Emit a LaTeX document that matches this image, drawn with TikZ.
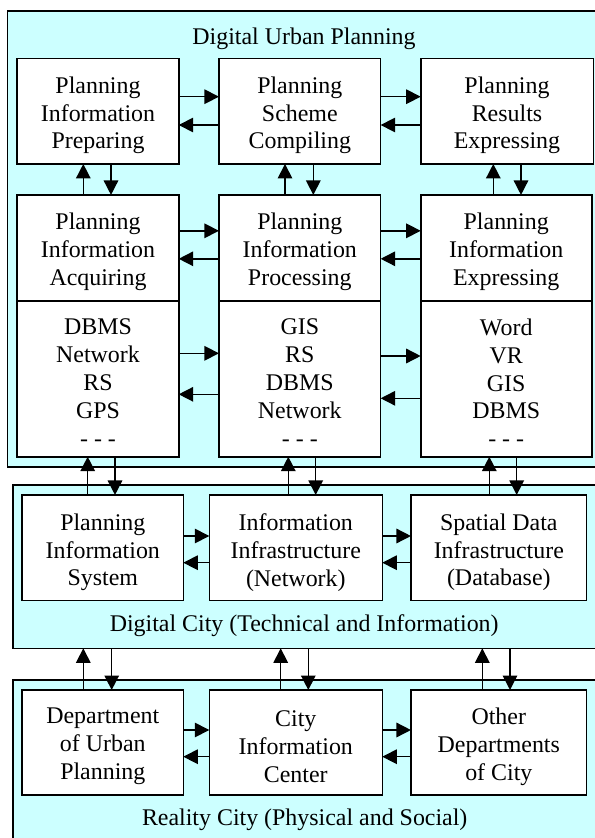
\documentclass[tikz,border=0pt]{standalone}
\usepackage{fontspec}
\setmainfont{Liberation Serif}
\usetikzlibrary{arrows.meta}
\definecolor{bgcyan}{RGB}{204,255,255}
\begin{document}
\begin{tikzpicture}[x=1bp,y=-1bp,
  box/.style={draw, fill=white, line width=1.6bp, inner sep=0pt, outer sep=0pt},
  txt/.style={align=center, inner sep=0pt, font=\fontsize{24}{28}\selectfont},
  outerbox/.style={draw, fill=bgcyan, line width=1.6bp, inner sep=0pt, outer sep=0pt, anchor=north west},
  arr/.style={-{Triangle[length=14.5bp,width=14.5bp]}, line width=1.5bp},
  ttl/.style={font=\fontsize{24}{28}\selectfont, anchor=base, inner sep=0pt}]
\useasboundingbox (0,0) rectangle (595,838);
\fill[white] (0,0) rectangle (595,838);
% outer boxes
\node[outerbox, minimum width=600bp, minimum height=456bp] (dup) at (7.3,10.7) {};
\node[outerbox, minimum width=600bp, minimum height=163.3bp] (dc) at (12.7,485) {};
\node[outerbox, minimum width=600bp, minimum height=170bp] (rc) at (12.7,680) {};
% titles
\node[ttl] (tdup) at (304,44.7) {Digital Urban Planning};
\node[ttl] (tdc) at (304.2,631.7) {Digital City (Technical and Information)};
\node[ttl] (trc) at (304.7,825) {Reality City (Physical and Social)};
% row 1
\node[box, minimum width=161.4bp, minimum height=105.3bp] (pip) at (98,111.3) {};
\node[box, minimum width=161.7bp, minimum height=105.3bp] (psc) at (299.8,111.3) {};
\node[box, minimum width=172.6bp, minimum height=105.3bp] (pre) at (507,111.3) {};
% row 2 upper
\node[box, minimum width=161.4bp, minimum height=105.7bp] (pia) at (98,247.8) {};
\node[box, minimum width=161.7bp, minimum height=105.7bp] (pipr) at (299.8,247.8) {};
\node[box, minimum width=171bp, minimum height=105.7bp] (pie) at (506.2,247.8) {};
% row 2 lower
\node[box, minimum width=161.4bp, minimum height=156bp] (ta) at (98,378.7) {};
\node[box, minimum width=161.7bp, minimum height=156bp] (tb) at (299.8,378.7) {};
\node[box, minimum width=171bp, minimum height=156bp] (tc) at (506.2,378.7) {};
% row 3
\node[box, minimum width=161bp, minimum height=105.7bp] (pis) at (102.8,547.8) {};
\node[box, minimum width=173bp, minimum height=105.7bp] (iin) at (295.8,547.8) {};
\node[box, minimum width=175.7bp, minimum height=105.7bp] (sdi) at (498.8,547.8) {};
% row 4
\node[box, minimum width=161bp, minimum height=105bp] (dept) at (102.8,742.5) {};
\node[box, minimum width=173bp, minimum height=105bp] (cic) at (295.8,742.5) {};
\node[box, minimum width=175.7bp, minimum height=105bp] (odc) at (498.8,742.5) {};
% box texts
\node[txt] (pipT) at ([yshift=-4bp]pip.center) {Planning\\Information\\Preparing};
\node[txt] (pscT) at ([yshift=-4bp]psc.center) {Planning\\Scheme\\Compiling};
\node[txt] (preT) at ([yshift=-4bp]pre.center) {Planning\\Results\\Expressing};
\node[txt] (piaT) at ([yshift=-4bp]pia.center) {Planning\\Information\\Acquiring};
\node[txt] (piprT) at ([yshift=-4bp]pipr.center) {Planning\\Information\\Processing};
\node[txt] (pieT) at ([yshift=-4bp]pie.center) {Planning\\Information\\Expressing};
\node[txt] (taT) at ([yshift=-4bp]ta.center) {DBMS\\Network\\RS\\GPS\\- - -};
\node[txt] (tbT) at ([yshift=-4bp]tb.center) {GIS\\RS\\DBMS\\Network\\- - -};
\node[txt] (tcT) at ([yshift=-4bp]tc.center) {Word\\VR\\GIS\\DBMS\\- - -};
\node[txt] (pisT) at ([yshift=-4.5bp]pis.center) {Planning\\Information\\System};
\node[txt] (iinT) at ([yshift=-4.5bp]iin.center) {Information\\Infrastructure\\(Network)};
\node[txt] (sdiT) at ([yshift=-4.5bp]sdi.center) {Spatial Data\\Infrastructure\\(Database)};
\node[txt] (deptT) at ([yshift=-4bp]dept.center) {Department\\of Urban\\Planning};
\node[txt] (cicT) at ([yshift=-4bp]cic.center) {City\\Information\\Center};
\node[txt] (odcT) at ([yshift=-4bp]odc.center) {Other\\Departments\\of City};
% horizontal arrows row 1
\draw[arr] ([yshift=14.6bp]pip.east) -- ([yshift=14.6bp]psc.west);
\draw[arr] ([yshift=-13.7bp]psc.west) -- ([yshift=-13.7bp]pip.east);
\draw[arr] ([yshift=14.6bp]psc.east) -- ([yshift=14.6bp]pre.west);
\draw[arr] ([yshift=-13.7bp]pre.west) -- ([yshift=-13.7bp]psc.east);
% row 2 upper
\draw[arr] ([yshift=17bp]pia.east) -- ([yshift=17bp]pipr.west);
\draw[arr] ([yshift=-11bp]pipr.west) -- ([yshift=-11bp]pia.east);
\draw[arr] ([yshift=17bp]pipr.east) -- ([yshift=17bp]pie.west);
\draw[arr] ([yshift=-11bp]pie.west) -- ([yshift=-11bp]pipr.east);
% row 2 lower
\draw[arr] ([yshift=25.4bp]ta.east) -- ([yshift=25.4bp]tb.west);
\draw[arr] ([yshift=-15.6bp]tb.west) -- ([yshift=-15.6bp]ta.east);
\draw[arr] ([yshift=22.7bp]tb.east) -- ([yshift=22.7bp]tc.west);
\draw[arr] ([yshift=-19.6bp]tc.west) -- ([yshift=-19.6bp]tb.east);
% row 3
\draw[arr] ([yshift=11.8bp]pis.east) -- ([yshift=11.8bp]iin.west);
\draw[arr] ([yshift=-14.9bp]iin.west) -- ([yshift=-14.9bp]pis.east);
\draw[arr] ([yshift=11.8bp]iin.east) -- ([yshift=11.8bp]sdi.west);
\draw[arr] ([yshift=-14.9bp]sdi.west) -- ([yshift=-14.9bp]iin.east);
% row 4
\draw[arr] ([yshift=12.5bp]dept.east) -- ([yshift=12.5bp]cic.west);
\draw[arr] ([yshift=-14.2bp]cic.west) -- ([yshift=-14.2bp]dept.east);
\draw[arr] ([yshift=12.5bp]cic.east) -- ([yshift=12.5bp]odc.west);
\draw[arr] ([yshift=-14.2bp]odc.west) -- ([yshift=-14.2bp]cic.east);
% vertical arrows row 1 - row 2
\coordinate (a1) at ([xshift=-14.7bp]pia.north);
\coordinate (b1) at ([xshift=13bp]pia.north);
\coordinate (a2) at ([xshift=-14.8bp]pipr.north);
\coordinate (b2) at ([xshift=13.5bp]pipr.north);
\coordinate (a3) at ([xshift=-12.9bp]pie.north);
\coordinate (b3) at ([xshift=14.8bp]pie.north);
\draw[arr] (a1) -- (a1 |- pip.south);
\draw[arr] (b1 |- pip.south) -- (b1);
\draw[arr] (a2) -- (a2 |- psc.south);
\draw[arr] (b2 |- psc.south) -- (b2);
\draw[arr] (a3) -- (a3 |- pre.south);
\draw[arr] (b3 |- pre.south) -- (b3);
% vertical arrows row 2 - row 3
\coordinate (u1) at ([xshift=-15.1bp]pis.north);
\coordinate (d1) at ([xshift=12.2bp]pis.north);
\coordinate (u2) at ([xshift=-7.5bp]iin.north);
\coordinate (d2) at ([xshift=19.9bp]iin.north);
\coordinate (u3) at ([xshift=-9.5bp]sdi.north);
\coordinate (d3) at ([xshift=17.9bp]sdi.north);
\draw[arr] (u1) -- (u1 |- ta.south);
\draw[arr] (d1 |- ta.south) -- (d1);
\draw[arr] (u2) -- (u2 |- tb.south);
\draw[arr] (d2 |- tb.south) -- (d2);
\draw[arr] (u3) -- (u3 |- tc.south);
\draw[arr] (d3 |- tc.south) -- (d3);
% vertical arrows box 2 - row 4
\coordinate (w1) at ([xshift=-19.5bp]dept.north);
\coordinate (e1) at ([xshift=8.9bp]dept.north);
\coordinate (w2) at ([xshift=-15.1bp]cic.north);
\coordinate (e2) at ([xshift=12.5bp]cic.north);
\coordinate (w3) at ([xshift=-16.5bp]odc.north);
\coordinate (e3) at ([xshift=11.2bp]odc.north);
\draw[arr] (w1) -- (w1 |- dc.south);
\draw[arr] (e1 |- dc.south) -- (e1);
\draw[arr] (w2) -- (w2 |- dc.south);
\draw[arr] (e2 |- dc.south) -- (e2);
\draw[arr] (w3) -- (w3 |- dc.south);
\draw[arr] (e3 |- dc.south) -- (e3);
\end{tikzpicture}
\end{document}
